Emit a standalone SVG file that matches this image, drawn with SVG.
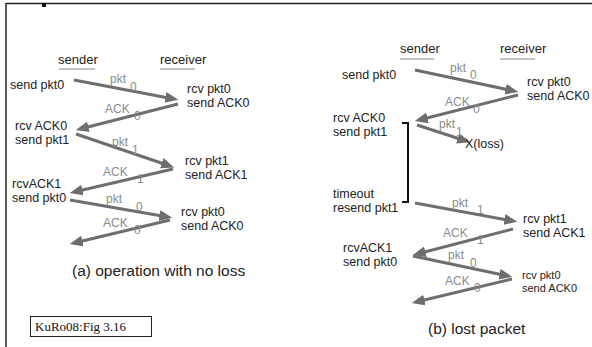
<svg xmlns="http://www.w3.org/2000/svg" width="592" height="347" viewBox="0 0 592 347">
<style>
text{font-family:"Liberation Sans","DejaVu Sans",Arial,sans-serif;}
.t{font-size:12.5px;fill:#222;}
.ts{font-size:11px;fill:#222;}
.h{font-size:13px;fill:#222;}
.lb{font-size:12px;fill:#8a8a8a;}
.cap{font-size:15.5px;fill:#222;}
.ul{stroke:#888;stroke-width:1.2;}
.ar{stroke:#6e6e6e;stroke-width:3;fill:none;marker-end:url(#ah);}
.br{stroke:#111;stroke-width:2;fill:none;}
</style>
<defs>
<marker id="ah" viewBox="0 0 12 10" refX="8" refY="5" markerWidth="13" markerHeight="11" markerUnits="userSpaceOnUse" orient="auto">
<path d="M0,0 L12,5 L0,10 z" fill="#6e6e6e"/>
</marker>
</defs>
<rect width="592" height="347" fill="#fff"/>
<g id="frame">
<line x1="6" y1="3.5" x2="592" y2="3.5" stroke="#222" stroke-width="1.5"/>
<line x1="6" y1="3" x2="6" y2="347" stroke="#222" stroke-width="1.5"/>
<rect x="42" y="3" width="4" height="4" fill="#111"/>
</g>
<g id="connectors">
<path class="ar" d="M74,80 L174,99"/>
<path class="ar" d="M178,104 L80,129"/>
<path class="ar" d="M76,134 L170,166"/>
<path class="ar" d="M173,169 L74,192"/>
<path class="ar" d="M70,200 L168,217"/>
<path class="ar" d="M170,220 L74,243"/>
<path class="ar" d="M415,70 L514,91"/>
<path class="ar" d="M518,95 L419,120"/>
<path class="ar" d="M417,125 L466,141"/>
<path class="ar" d="M415,203 L513,221"/>
<path class="ar" d="M513,229 L417,254"/>
<path class="ar" d="M413,256 L508,276"/>
<path class="ar" d="M512,279 L416,302"/>
<path class="br" d="M402,123 L408,123 L408,202 L402,202"/>
</g>
<g id="panelA">
<text class="h" x="58" y="64">sender</text>
<line class="ul" x1="59" y1="69" x2="95" y2="69"/>
<text class="h" x="160" y="64">receiver</text>
<line class="ul" x1="160" y1="69" x2="195" y2="69"/>
<text class="t" x="10" y="89">send pkt0</text>
<text class="lb" x="110" y="83">pkt</text><text class="lb" x="130" y="91">0</text>
<text class="t" x="187" y="93">rcv pkt0</text>
<text class="t" x="187" y="107">send ACK0</text>
<text class="lb" x="105" y="113">ACK</text><text class="lb" x="134" y="120">0</text>
<text class="t" x="15" y="130">rcv ACK0</text>
<text class="t" x="15" y="144">send pkt1</text>
<text class="lb" x="112" y="146">pkt</text><text class="lb" x="132" y="154">1</text>
<text class="t" x="185" y="165">rcv pkt1</text>
<text class="t" x="185" y="179">send ACK1</text>
<text class="lb" x="103" y="176">ACK</text><text class="lb" x="137" y="183">1</text>
<text class="t" x="12" y="188">rcvACK1</text>
<text class="t" x="12" y="202">send pkt0</text>
<text class="lb" x="106" y="203">pkt</text><text class="lb" x="136" y="211">0</text>
<text class="t" x="181" y="216">rcv pkt0</text>
<text class="t" x="181" y="230">send ACK0</text>
<text class="lb" x="103" y="227">ACK</text><text class="lb" x="134" y="234">0</text>
<text class="cap" x="72" y="276">(a) operation with no loss</text>
</g>
<g id="figbox">
<rect x="30.5" y="316.5" width="121" height="20" fill="#fff" stroke="#222" stroke-width="1"/>
<text x="35" y="331" style="font-family:'Liberation Serif','Times New Roman',serif;font-size:13px;fill:#111">KuRo08:Fig 3.16</text>
</g>
<g id="panelB">
<text class="h" x="400" y="53">sender</text>
<line class="ul" x1="400" y1="59" x2="434" y2="59"/>
<text class="h" x="500" y="53">receiver</text>
<line class="ul" x1="500" y1="59" x2="535" y2="59"/>
<text class="t" x="342" y="79">send pkt0</text>
<text class="lb" x="450" y="72">pkt</text><text class="lb" x="470" y="79">0</text>
<text class="t" x="527" y="86">rcv pkt0</text>
<text class="t" x="527" y="100">send ACK0</text>
<text class="lb" x="445" y="106">ACK</text><text class="lb" x="473" y="113">0</text>
<text class="t" x="333" y="122">rcv ACK0</text>
<text class="t" x="333" y="136">send pkt1</text>
<text class="lb" x="439" y="128">pkt</text><text class="lb" x="456" y="136">1</text>
<text class="t" x="465" y="148">X(loss)</text>
<text class="t" x="333" y="198">timeout</text>
<text class="t" x="333" y="212">resend pkt1</text>
<text class="lb" x="452" y="207">pkt</text><text class="lb" x="477" y="214">1</text>
<text class="t" x="523" y="223">rcv pkt1</text>
<text class="t" x="523" y="237">send ACK1</text>
<text class="lb" x="443" y="237">ACK</text><text class="lb" x="477" y="244">1</text>
<text class="t" x="343" y="252">rcvACK1</text>
<text class="t" x="343" y="266">send pkt0</text>
<text class="lb" x="448" y="259">pkt</text><text class="lb" x="470" y="267">0</text>
<text class="ts" x="522" y="279">rcv pkt0</text>
<text class="ts" x="522" y="292">send ACK0</text>
<text class="lb" x="445" y="285">ACK</text><text class="lb" x="474" y="292">0</text>
<text class="cap" x="428" y="334">(b) lost packet</text>
</g>
</svg>
